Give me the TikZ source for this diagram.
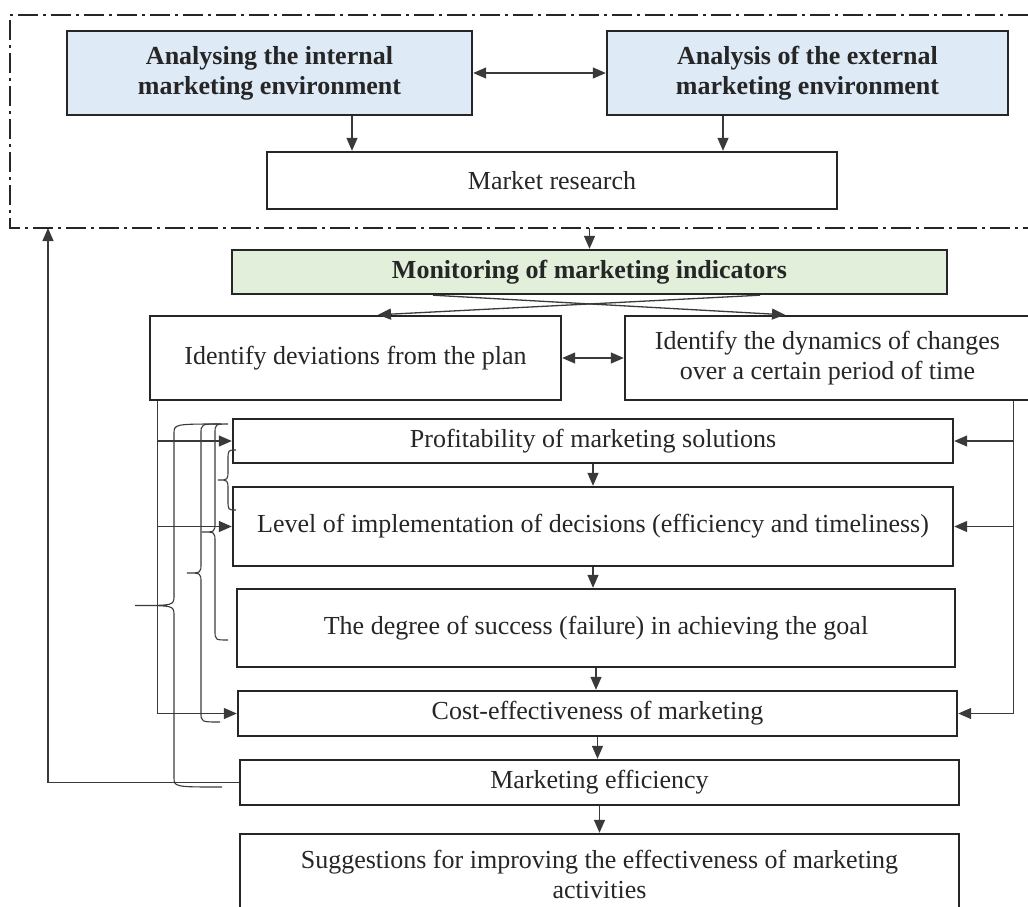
\documentclass[tikz,border=0pt]{standalone}
\usepackage{fontspec}
\setmainfont{Liberation Serif}
\usetikzlibrary{arrows.meta}
\definecolor{blueshade}{HTML}{DEEAF6}
\definecolor{greenshade}{HTML}{E2EFDA}
\definecolor{boxline}{HTML}{262626}
\definecolor{linegray}{HTML}{3A3A3A}
\newcommand{\sidebrace}[5]% x, top, bottom, tip, end
{(#5,#2) .. controls (#1,#2) .. (#1,#2+10) -- (#1,{(#2+#3)/2-10}) .. controls (#1,{(#2+#3)/2}) .. (#4,{(#2+#3)/2}) .. controls (#1,{(#2+#3)/2}) .. (#1,{(#2+#3)/2+10}) -- (#1,#3-10) .. controls (#1,#3) .. (#5,#3)
}
\tikzset{
  box/.style={draw=boxline, line width=2.4pt, fill=white, inner sep=0pt, align=center, text=boxline, font=\fontsize{26}{30}\selectfont},
  bluebox/.style={box, fill=blueshade, font=\fontsize{26}{30}\selectfont\bfseries},
  greenbox/.style={box, fill=greenshade, font=\fontsize{26}{30}\selectfont\bfseries},
  link/.style={draw=linegray, line width=1.3pt, -{Triangle[length=13pt,width=11pt]}},
  twoway/.style={link, {Triangle[length=13pt,width=11pt]}-{Triangle[length=13pt,width=11pt]}},
  bracket/.style={draw=linegray, line width=1.1pt},
  dashframe/.style={draw=boxline, line width=1.8pt, dash pattern=on 20pt off 5pt on 3pt off 5pt}
}

\begin{document}
\begin{tikzpicture}[x=1pt,y=-1pt]
	\useasboundingbox (0,0) rectangle (1028,906);
	% analysis frame
	\coordinate (fbl) at (10,228);
	\coordinate (fb) at (48,228);
	\draw[dashframe] (1028,15) -| (fbl) -- (1028,228);
	\node[bluebox, minimum width=405pt, minimum height=84pt] (internal) at (269.5,73) {Analysing the internal\\marketing environment};
	\node[bluebox, minimum width=401pt, minimum height=84pt] (external) at (807.5,73) {Analysis of the external\\marketing environment};
	\node[box, minimum width=570pt, minimum height=57pt] (research) at (552,180.5) {Market research};
	% monitoring
	\node[greenbox, minimum width=715pt, minimum height=44pt] (monitor) at (589.5,272) {Monitoring of marketing indicators};
	\node[box, minimum width=411pt, minimum height=84pt] (deviations) at (355.5,358) {Identify deviations from the plan};
	\node[box, minimum width=405pt, minimum height=84pt] (dynamics) at (827.5,358) {Identify the dynamics of changes\\over a certain period of time};
	\node[box, minimum width=720pt, minimum height=44pt] (profit) at (593,441) {Profitability of marketing solutions};
	\node[box, minimum width=720pt, minimum height=79pt] (implement) at (593,526.5) {Level of implementation of decisions (efficiency and timeliness)};
	\node[box, minimum width=718pt, minimum height=78pt] (success) at (596,628) {The degree of success (failure) in achieving the goal};
	\node[box, minimum width=719pt, minimum height=45pt] (cost) at (597.5,713.5) {Cost-effectiveness of marketing};
	\node[box, minimum width=719pt, minimum height=45pt] (efficiency) at (599.5,782.5) {Marketing efficiency};
	\node[box, minimum width=719pt, minimum height=80pt] (suggest) at (599.5,874) {Suggestions for improving the effectiveness of marketing\\activities};
	% top links
	\draw[twoway] (internal) -- (external);
	\draw[link] ([xshift=82.5pt]internal.south) -- ([xshift=82.5pt]internal.south |- research.north);
	\draw[link] ([xshift=-84.5pt]external.south) -- ([xshift=-84.5pt]external.south |- research.north);
	\draw[link] (monitor.north |- fbl) -- (monitor.north);
	\draw[link] ([xshift=-156.5pt]monitor.south) -- ([xshift=-42.5pt]dynamics.north);%cross
	\draw[link] ([xshift=170.5pt]monitor.south) -- ([xshift=22.5pt]deviations.north);%cross
	\draw[twoway] (deviations) -- (dynamics);
	% side links
	\draw[link] ([xshift=9pt]deviations.south west) |- (profit.west);
	\draw[link] ([xshift=9pt]deviations.south west) |- (implement.west);
	\draw[link] ([xshift=9pt]deviations.south west) |- (cost.west);
	\draw[link] ([xshift=-18pt]dynamics.south east) |- (profit.east);
	\draw[link] ([xshift=-18pt]dynamics.south east) |- (implement.east);
	\draw[link] ([xshift=-18pt]dynamics.south east) |- (cost.east);
	% centre column
	\draw[link] (profit.south) -- (profit.south |- implement.north);
	\draw[link] (implement.south) -- (implement.south |- success.north);
	\draw[link] (success.south) -- (success.south |- cost.north);
	\draw[link] (cost.south) -- (cost.south |- efficiency.north);
	\draw[link] (efficiency.south) -- (efficiency.south |- suggest.north);
	\draw[link] (efficiency.west) -| (fb);
	% braces
	\draw[bracket] \sidebrace{174}{424}{787}{135}{222};
	\draw[bracket] \sidebrace{201}{424}{722}{187}{220};
	\draw[bracket] \sidebrace{215}{424}{640}{202}{228};
	\draw[bracket] \sidebrace{228}{450}{510}{218}{236};
\end{tikzpicture}
\end{document}
